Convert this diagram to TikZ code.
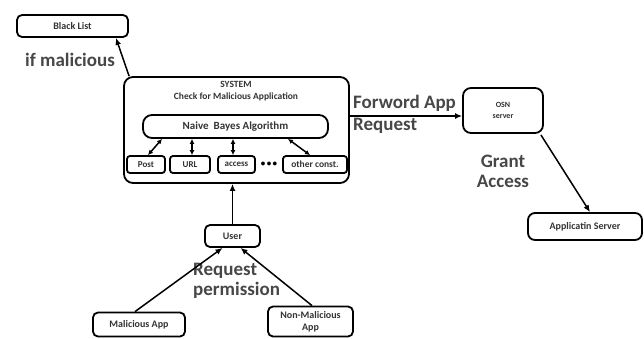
\documentclass[tikz,border=0pt]{standalone}
\usepackage{fontspec}
\setmainfont{Carlito}
\usetikzlibrary{arrows.meta,calc}
\tikzset{
  box/.style={draw=black, line width=1.8pt, rounded corners=5pt, inner sep=0pt, align=center, text=black!80, font=\bfseries},
  arr/.style={line width=1.5pt, -{Latex[length=7pt,width=6pt]}},
  darr/.style={line width=1.5pt, {Latex[length=5pt,width=5pt]}-{Latex[length=5pt,width=5pt]}},
  lbl/.style={inner sep=0pt, text=black!72, font=\fontsize{19}{20}\selectfont\bfseries, align=left}
}
\begin{document}
\begin{tikzpicture}[x=1pt,y=-1pt]
\useasboundingbox (0,0) rectangle (644,338);
% boxes
\node[box, minimum width=111pt, minimum height=22pt, font=\fontsize{10}{11}\selectfont\bfseries] (bl) at (72.5,26) {Black List};
\node[box, minimum width=225pt, minimum height=106pt, rounded corners=9pt] (sys) at (236.5,130) {};
\node[inner sep=0pt, align=center, text=black!80, font=\fontsize{9.5}{12}\selectfont\bfseries] (systxt) at (236,91) {SYSTEM\\Check for Malicious Application};
\node[box, minimum width=185pt, minimum height=23pt, rounded corners=9pt, font=\fontsize{11}{12}\selectfont\bfseries] (nb) at (235.5,126.5) {Naive\ \ Bayes Algorithm};
\node[box, minimum width=38pt, minimum height=17pt, rounded corners=3pt, font=\fontsize{9}{10}\selectfont\bfseries] (post) at (146,164.5) {Post};
\node[box, minimum width=40pt, minimum height=17pt, rounded corners=3pt, font=\fontsize{9}{10}\selectfont\bfseries] (url) at (190,164.5) {URL};
\node[box, minimum width=37pt, minimum height=17pt, rounded corners=3pt, font=\fontsize{9}{10}\selectfont\bfseries] (acc) at (236.5,164.5) {access};
\node[box, minimum width=64pt, minimum height=17pt, rounded corners=3pt, font=\fontsize{9.5}{10}\selectfont\bfseries] (oth) at (315,164.5) {other const.};
\node[inner sep=0pt, font=\fontsize{9}{10}\selectfont\bfseries] (dots) at (269,164.5) {•\,•\,•};
\node[box, minimum width=80pt, minimum height=45pt, rounded corners=8pt, font=\fontsize{8}{11}\selectfont\bfseries] (osn) at (503,110.5) {OSN\\server};
\node[box, minimum width=114pt, minimum height=27pt, rounded corners=7pt, font=\fontsize{10}{11}\selectfont\bfseries] (app) at (585,226.5) {Applicatin Server};
\node[box, minimum width=55pt, minimum height=22pt, font=\fontsize{10}{11}\selectfont\bfseries] (user) at (232.5,236) {User};
\node[box, minimum width=92pt, minimum height=24pt, font=\fontsize{10}{11}\selectfont\bfseries] (mal) at (139,324.5) {Malicious App};
\node[box, minimum width=85pt, minimum height=30pt, font=\fontsize{10}{12}\selectfont\bfseries] (non) at (310.5,321.5) {Non-Malicious\\App};
% labels
\node[lbl] (lm) at (70,60) {if malicious};
\node[lbl, anchor=west, font=\fontsize{19}{22}\selectfont\bfseries] (lf) at (353,114) {Forword App\\Request};
\node[lbl, align=center] (lg) at (503,171) {Grant\\Access};
\node[lbl, anchor=west] (lr) at (193,281) {Request\\permission};
% connectors
\draw[arr] ($(sys.north west)+(6,0)$) -- ($(bl.south east)+(-13,0)$);
\draw[arr] (sys.east |- 0,116) -- (osn.west |- 0,116);
\draw[arr] ($(osn.south east)+(-3,1)$) -- (590,0 |- app.north);
\draw[arr] (user.north) -- (user.north |- sys.south);
\draw[arr] ($(mal.north)+(-4,0)$) -- ($(user.south)+(-10,0)$);
\draw[arr] ($(non.north)+(1.5,0)$) -- ($(user.south)+(8,0)$);
\draw[darr] (162,0 |- nb.south) -- (148,0 |- post.north);
\draw[darr] (192,0 |- nb.south) -- (192,0 |- url.north);
\draw[darr] (233,0 |- nb.south) -- (233,0 |- acc.north);
\draw[darr] (288,0 |- nb.south) -- (310,0 |- oth.north);
\end{tikzpicture}
\end{document}
